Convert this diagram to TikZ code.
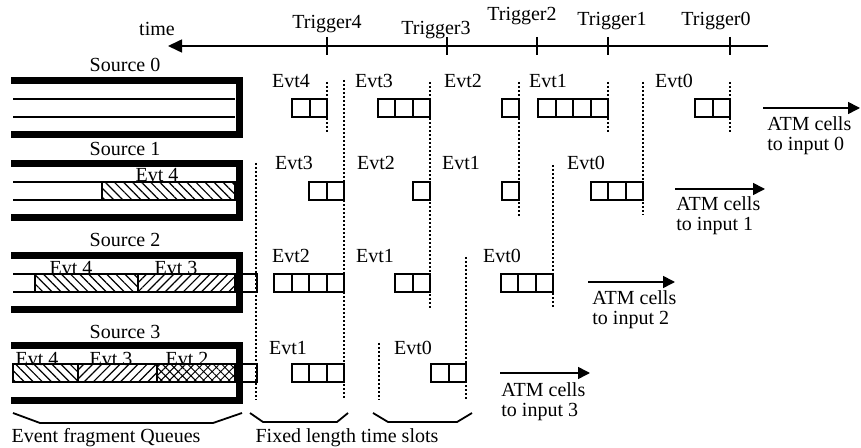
\documentclass[tikz,border=0pt]{standalone}
\usepackage{fontspec}
\setmainfont{Liberation Serif}
\usetikzlibrary{arrows.meta, patterns.meta}

\begin{document}
\begin{tikzpicture}[x=0.5pt, y=-0.5pt,
 lbl/.style={anchor=base, inner sep=0pt, font=\fontsize{10}{10}\selectfont},
 note/.style={anchor=base west, inner sep=0pt, align=left, font=\fontsize{10}{10}\selectfont},
 wall/.style={line width=3.5pt, line join=miter},
 lane/.style={line width=0.6pt},
 cellbox/.style={draw, line width=1pt, fill=white},
 slot/.style={densely dotted, line width=1pt},
 arr/.style={-{Triangle[length=6pt, width=6pt]}, line width=0.8pt},
 bracket/.style={line width=0.9pt, line join=round},
 evtA/.style={draw, line width=0.6pt, pattern={Lines[angle=-45, distance=3.2pt, line width=0.6pt]}},
 evtB/.style={draw, line width=0.6pt, pattern={Lines[angle=45, distance=3.2pt, line width=0.6pt]}},
 evtC/.style={draw, line width=0.6pt, pattern={Hatch[angle=45, distance=3pt, line width=0.5pt]}}]
\useasboundingbox (0,0) rectangle (861,448);

% time axis
\coordinate (axR) at (768,46);
\coordinate (axL) at (168,46);
\draw[-{Triangle[length=7pt, width=6.5pt]}, line width=0.8pt] (axR) -- (axL);
\foreach \tx in {327,447,537,608,730}
  \draw[line width=0.8pt] (\tx,37) -- (\tx,55);
\node[lbl] (time) at (157,36) {time};
\node[lbl] (trig4) at (327,29) {Trigger4};
\node[lbl] (trig3) at (436,35) {Trigger3};
\node[lbl] (trig2) at (522,21) {Trigger2};
\node[lbl] (trig1) at (612,26) {Trigger1};
\node[lbl] (trig0) at (716,26) {Trigger0};

% event fragment queues
\draw[lane] (13,99) -- (235,99) (13,117) -- (235,117);
\draw[lane] (13,182) -- (235,182) (13,200) -- (235,200);
\draw[evtA] (102,182) rectangle (235,200);
\draw[lane] (13,274) -- (235,274) (13,292) -- (235,292);
\draw[evtA] (35,274) rectangle (138,292);
\draw[evtB] (138,274) rectangle (235,292);
\draw[lane] (235,274) rectangle (257,292);
\draw[lane] (13,364) -- (235,364) (13,382) -- (235,382);
\draw[evtA] (13,364) rectangle (78,382);
\draw[evtB] (78,364) rectangle (157,382);
\draw[evtC] (157,364) rectangle (235,382);
\draw[lane] (235,364) rectangle (257,382);
\foreach \t in {81,164,256,346}
  \draw[wall] (11,\t) -- (239,\t) -- (239,\t+54) -- (11,\t+54);
\node[lbl] (src0) at (125,72) {Source 0};
\node[lbl] (src1) at (125,156) {Source 1};
\node[lbl] (src2) at (125,247) {Source 2};
\node[lbl] (src3) at (125,338) {Source 3};
\node[lbl] (q1e4) at (157,182) {Evt 4};
\node[lbl] (q2e4) at (71,275) {Evt 4};
\node[lbl] (q2e3) at (176,275) {Evt 3};
\node[lbl] (q3e4) at (37,365) {Evt 4};
\node[lbl] (q3e3) at (111,365) {Evt 3};
\node[lbl] (q3e2) at (187,365) {Evt 2};

% slot boundaries
\draw[slot] (327,82) -- (327,133);
\draw[slot] (344,80) -- (344,400);
\draw[slot] (430,82) -- (430,308);
\draw[slot] (519,82) -- (519,217);
\draw[slot] (608,82) -- (608,133);
\draw[slot] (643,82) -- (643,215);
\draw[slot] (730,82) -- (730,133);
\draw[slot] (256,163) -- (256,400);
\draw[slot] (553,165) -- (553,308);
\draw[slot] (466,257) -- (466,400);
\draw[slot] (379,343) -- (379,400);

% cells in each slot (right edge / top / count)
\foreach \xr/\yt/\n in {327/99/2, 430/99/3, 519/99/1, 608/99/4, 730/99/2,
    344/182/2, 430/182/1, 519/182/1, 643/182/3,
    344/274/4, 430/274/2, 553/274/3,
    344/364/3, 466/364/2}
  \foreach \i in {1,...,\n}
    \draw[cellbox] ({\xr-17.5*\i},\yt) rectangle ++(17.5,18);

\node[lbl] (r0e4) at (291,88) {Evt4};
\node[lbl] (r0e3) at (374,88) {Evt3};
\node[lbl] (r0e2) at (463,88) {Evt2};
\node[lbl] (r0e1) at (548,88) {Evt1};
\node[lbl] (r0e0) at (674,88) {Evt0};
\node[lbl] (r1e3) at (294,170) {Evt3};
\node[lbl] (r1e2) at (376,170) {Evt2};
\node[lbl] (r1e1) at (461,170) {Evt1};
\node[lbl] (r1e0) at (586,170) {Evt0};
\node[lbl] (r2e2) at (291,263) {Evt2};
\node[lbl] (r2e1) at (375,263) {Evt1};
\node[lbl] (r2e0) at (502,263) {Evt0};
\node[lbl] (r3e1) at (288,355) {Evt1};
\node[lbl] (r3e0) at (413,355) {Evt0};

% outputs to the switch
\coordinate (o0a) at (763,108); \coordinate (o0b) at (860,108);
\coordinate (o1a) at (675,189); \coordinate (o1b) at (765,189);
\coordinate (o2a) at (588,282); \coordinate (o2b) at (675,282);
\coordinate (o3a) at (500,373); \coordinate (o3b) at (590,373);
\draw[arr] (o0a) -- (o0b);
\draw[arr] (o1a) -- (o1b);
\draw[arr] (o2a) -- (o2b);
\draw[arr] (o3a) -- (o3b);
\node[note] (atm0) at (767,151) {ATM cells\\to input 0};
\node[note] (atm1) at (676,231) {ATM cells\\to input 1};
\node[note] (atm2) at (592,325) {ATM cells\\to input 2};
\node[note] (atm3) at (501,416) {ATM cells\\to input 3};

% brackets
\draw[bracket] (13,413) -- (40,423) -- (213,423) -- (242,413);
\draw[bracket] (250,413) -- (263,422) -- (337,422) -- (348,413);
\draw[bracket] (373,413) -- (388,422) -- (457,422) -- (472,413);
\node[lbl] (queues) at (106,442) {Event fragment Queues};
\node[lbl] (slots) at (347,442) {Fixed length time slots};
\end{tikzpicture}
\end{document}
